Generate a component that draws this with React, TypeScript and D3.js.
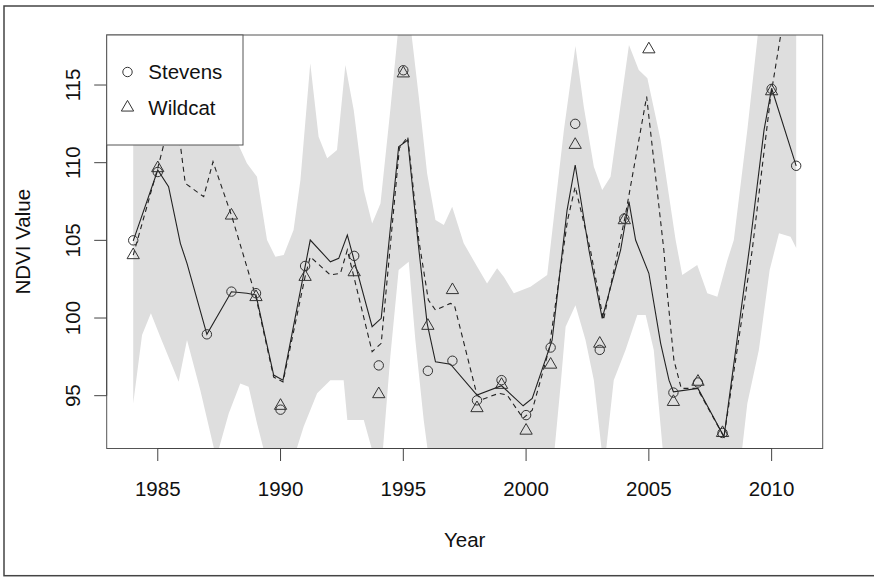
import React from "react";
import * as d3 from "d3";

// Observation years and NDVI values per site (null = no observation)
const years = [
  1984, 1985, 1986, 1987, 1988, 1989, 1990, 1991, 1992, 1993, 1994, 1995, 1996, 1997,
  1998, 1999, 2000, 2001, 2002, 2003, 2004, 2005, 2006, 2007, 2008, 2009, 2010, 2011,
];
const stevens: (number | null)[] = [
  105.0, 109.4, null, 98.95, 101.7, 101.6, 94.1, 103.35, null, 104.0, 96.95, 115.95, 96.6, 97.25,
  94.7, 96.0, 93.75, 98.1, 112.5, 97.95, 106.4, null, 95.2, 95.85, 92.6, null, 114.75, 109.8,
];
const wildcat: (number | null)[] = [
  104.05, 109.65, null, null, 106.6, 101.35, 94.35, 102.65, null, 102.95, 95.1, 115.75, 99.5, 101.8,
  94.2, 95.7, 92.75, 97.0, 111.15, 98.35, 106.3, 117.3, 94.6, 95.9, 92.6, null, 114.6, null,
];

// Fitted series [year, value]
const stevensFit: [number, number][] = [
  [1984.0, 104.97], [1985.0, 109.53], [1985.44, 108.45], [1985.92, 104.81], [1986.19, 103.52],
  [1987.0, 98.95], [1988.0, 101.69], [1988.63, 101.59], [1989.0, 101.48], [1989.72, 96.33],
  [1990.1, 96.0], [1991.21, 105.02], [1992.03, 103.62], [1992.37, 103.84], [1992.72, 105.34],
  [1993.73, 99.44], [1994.1, 99.98], [1994.81, 111.03], [1995.18, 111.46], [1995.59, 105.02],
  [1995.97, 99.66], [1996.31, 97.18], [1996.92, 97.03], [1998.0, 95.04], [1999.0, 95.64],
  [1999.88, 94.35], [2000.25, 94.83], [2001.06, 98.58], [2001.67, 106.95], [2002.0, 109.85],
  [2002.56, 104.38], [2003.1, 99.98], [2003.85, 104.38], [2004.19, 107.49], [2004.46, 105.02],
  [2005.0, 102.88], [2005.48, 98.37], [2005.82, 96.0], [2006.0, 95.25], [2007.0, 95.47],
  [2008.06, 92.35], [2009.14, 105.02], [2009.69, 112.1], [2010.0, 114.79], [2011.0, 109.8],
];
const wildcatFit: [number, number][] = [
  [1984.0, 104.05], [1985.0, 109.66], [1985.24, 111.14], [1985.57, 112.75], [1985.92, 111.14],
  [1986.12, 108.67], [1986.87, 107.81], [1987.25, 110.06], [1988.02, 106.52], [1989.0, 101.33],
  [1989.72, 96.2], [1990.1, 95.88], [1991.0, 102.66], [1991.21, 103.94], [1992.03, 102.77],
  [1992.44, 102.88], [1992.72, 104.38], [1993.73, 97.83], [1994.1, 98.37], [1994.84, 110.94],
  [1995.18, 111.67], [1995.63, 105.02], [1996.02, 101.16], [1996.31, 100.51], [1996.92, 100.94],
  [1997.08, 100.83], [1998.0, 95.04], [1998.21, 94.76], [1998.89, 95.15], [1999.23, 95.04],
  [1999.88, 93.54], [2000.25, 94.07], [2000.93, 97.94], [2001.69, 106.31], [2002.0, 108.45],
  [2002.62, 104.38], [2003.15, 99.87], [2004.02, 106.42], [2004.91, 114.25], [2005.61, 104.38],
  [2005.75, 101.59], [2006.02, 97.29], [2006.32, 95.47], [2006.97, 95.47], [2008.06, 92.35],
  [2009.21, 104.38], [2009.96, 114.25], [2010.37, 118.22], [2011.0, 122.4],
];

// Interval band edges [year, value]
const bandUpper: [number, number][] = [
  [1984.0, 119.19], [1985.92, 119.83], [1987.75, 119.19], [1988.29, 111.14], [1988.63, 109.96],
  [1989.04, 109.1], [1989.45, 105.02], [1989.79, 103.94], [1990.13, 104.05], [1990.53, 105.66],
  [1990.81, 108.88], [1991.21, 116.4], [1991.55, 111.67], [1991.9, 110.28], [1992.3, 110.81],
  [1992.64, 116.29], [1992.98, 113.39], [1993.39, 108.24], [1993.73, 106.09], [1994.07, 107.38],
  [1994.47, 113.39], [1994.81, 118.86], [1995.29, 118.86], [1995.63, 114.25], [1995.97, 109.31],
  [1996.31, 106.31], [1996.65, 105.99], [1996.99, 107.16], [1997.46, 104.81], [1998.01, 103.3],
  [1998.41, 102.23], [1998.82, 103.2], [1999.09, 102.66], [1999.5, 101.59], [2000.18, 102.01],
  [2000.86, 102.77], [2001.54, 112.1], [2002.01, 117.51], [2002.35, 113.6], [2002.76, 109.74],
  [2003.1, 108.24], [2003.44, 109.1], [2004.19, 117.58], [2004.59, 115.97], [2004.94, 115.43],
  [2005.48, 111.46], [2006.09, 105.02], [2006.36, 102.77], [2006.97, 103.41], [2007.38, 101.59],
  [2007.79, 101.37], [2008.2, 103.73], [2008.46, 105.02], [2009.01, 112.1], [2009.48, 118.86],
  [2011.0, 118.86],
];
const bandLower: [number, number][] = [
  [1984.0, 94.5], [1984.36, 98.9], [1984.72, 100.3], [1985.1, 98.79], [1985.85, 95.9],
  [1986.19, 98.58], [1986.73, 95.36], [1987.38, 90.98], [1987.89, 93.86], [1988.36, 95.79],
  [1988.7, 95.57], [1989.04, 93.22], [1989.58, 89.89], [1990.32, 89.89], [1990.94, 93.0],
  [1991.49, 95.15], [1992.03, 96.0], [1992.57, 96.0], [1992.72, 93.43], [1993.39, 93.43],
  [1994.07, 89.57], [1994.47, 97.5], [1994.81, 103.09], [1995.22, 103.62], [1995.49, 98.58],
  [1995.83, 93.43], [1996.1, 90.21], [2001.08, 90.21], [2001.4, 95.57], [2001.61, 99.44],
  [2002.01, 100.83], [2002.42, 98.58], [2002.76, 96.0], [2003.17, 90.21], [2003.57, 96.0],
  [2004.05, 97.94], [2004.53, 100.19], [2004.87, 100.19], [2005.2, 97.94], [2005.64, 90.21],
  [2008.7, 90.21], [2009.01, 94.5], [2009.48, 97.94], [2009.92, 103.09], [2010.3, 105.45],
  [2010.77, 105.23], [2011.0, 104.5],
];

const xTicks = [1985, 1990, 1995, 2000, 2005, 2010];
const yTicks = [95, 100, 105, 110, 115];
const xLimits: [number, number] = [1982.92, 2012.08];
const yLimits: [number, number] = [91.6, 118.22];

const W = 874;
const H = 578;
const plot = { left: 106.7, right: 822.7, top: 35, bottom: 448.5 };
const FONT = "'Liberation Sans', Arial, Helvetica, sans-serif";
const FS = 20.5;
const INK = "#222";

const triangle = (cx: number, cy: number, r: number) =>
  `M${cx},${cy - r}L${cx + r * 0.866},${cy + r / 2}L${cx - r * 0.866},${cy + r / 2}Z`;

export default function App() {
  const x = d3.scaleLinear().domain(xLimits).range([plot.left, plot.right]);
  const y = d3.scaleLinear().domain(yLimits).range([plot.bottom, plot.top]);
  const line = d3
    .line<[number, number]>()
    .x((d) => x(d[0]))
    .y((d) => y(d[1]));

  const bandPath = (line([...bandUpper, ...bandLower.slice().reverse()]) ?? "") + "Z";
  const rCirc = 4.7;
  const rTri = 7.1;

  const legendRows = [
    { label: "Stevens", kind: "circle" },
    { label: "Wildcat", kind: "triangle" },
  ];

  return (
    <svg
      width={W}
      height={H}
      viewBox={`0 0 ${W} ${H}`}
      style={{ position: "absolute", left: 0, top: 0, background: "#fff" }}
      fontFamily={FONT}
    >
      <rect x={0} y={0} width={W} height={H} fill="#fff" />
      {/* figure frame */}
      <rect x={4} y={6} width={900} height={569.7} fill="none" stroke="#444" strokeWidth={1.5} />

      <defs>
        <clipPath id="plotClip">
          <rect x={plot.left} y={plot.top} width={plot.right - plot.left} height={plot.bottom - plot.top} />
        </clipPath>
      </defs>

      <g clipPath="url(#plotClip)">
        <path d={bandPath} fill="#dedede" stroke="none" />
        <path d={line(stevensFit) ?? ""} fill="none" stroke={INK} strokeWidth={1.1} />
        <path
          d={line(wildcatFit) ?? ""}
          fill="none"
          stroke={INK}
          strokeWidth={1.1}
          strokeDasharray="5,4"
        />
        {years.map((yr, i) =>
          stevens[i] == null ? null : (
            <circle
              key={`s${yr}`}
              cx={x(yr)}
              cy={y(stevens[i] as number)}
              r={rCirc}
              fill="none"
              stroke="#333"
              strokeWidth={1}
            />
          )
        )}
        {years.map((yr, i) =>
          wildcat[i] == null ? null : (
            <path
              key={`w${yr}`}
              d={triangle(x(yr), y(wildcat[i] as number), rTri)}
              fill="none"
              stroke="#333"
              strokeWidth={1}
            />
          )
        )}
      </g>

      {/* plot box */}
      <rect
        x={plot.left}
        y={plot.top}
        width={plot.right - plot.left}
        height={plot.bottom - plot.top}
        fill="none"
        stroke="#555"
        strokeWidth={1}
      />

      {/* x axis */}
      <line x1={x(xTicks[0])} x2={x(xTicks[xTicks.length - 1])} y1={plot.bottom} y2={plot.bottom} stroke="#444" />
      {xTicks.map((t) => (
        <g key={`xt${t}`}>
          <line x1={x(t)} x2={x(t)} y1={plot.bottom} y2={plot.bottom + 12.5} stroke="#444" />
          <text x={x(t)} y={495.5} textAnchor="middle" fontSize={FS} fill="#111">
            {t}
          </text>
        </g>
      ))}

      {/* y axis */}
      <line x1={plot.left} x2={plot.left} y1={y(yTicks[0])} y2={y(yTicks[yTicks.length - 1])} stroke="#444" />
      {yTicks.map((t) => (
        <g key={`yt${t}`}>
          <line x1={plot.left - 12.5} x2={plot.left} y1={y(t)} y2={y(t)} stroke="#444" />
          <text
            transform={`translate(80,${y(t)}) rotate(-90)`}
            textAnchor="middle"
            fontSize={FS}
            fill="#111"
          >
            {t}
          </text>
        </g>
      ))}

      {/* axis titles */}
      <text x={(plot.left + plot.right) / 2} y={546.5} textAnchor="middle" fontSize={FS} fill="#111">
        Year
      </text>
      <text
        transform={`translate(30,${(plot.top + plot.bottom) / 2}) rotate(-90)`}
        textAnchor="middle"
        fontSize={FS}
        fill="#111"
      >
        NDVI Value
      </text>

      {/* legend */}
      <rect x={plot.left} y={plot.top} width={136.3} height={110} fill="#fff" stroke="#555" strokeWidth={1} />
      {legendRows.map((row, i) => {
        const cy = 72 + i * 35.5;
        const cx = 127.5;
        return (
          <g key={row.label}>
            {row.kind === "circle" ? (
              <circle cx={cx} cy={cy} r={rCirc} fill="none" stroke="#333" strokeWidth={1} />
            ) : (
              <path d={triangle(cx, cy, rTri)} fill="none" stroke="#333" strokeWidth={1} />
            )}
            <text x={148.3} y={cy + 7.3} fontSize={FS} fill="#111">
              {row.label}
            </text>
          </g>
        );
      })}
    </svg>
  );
}
